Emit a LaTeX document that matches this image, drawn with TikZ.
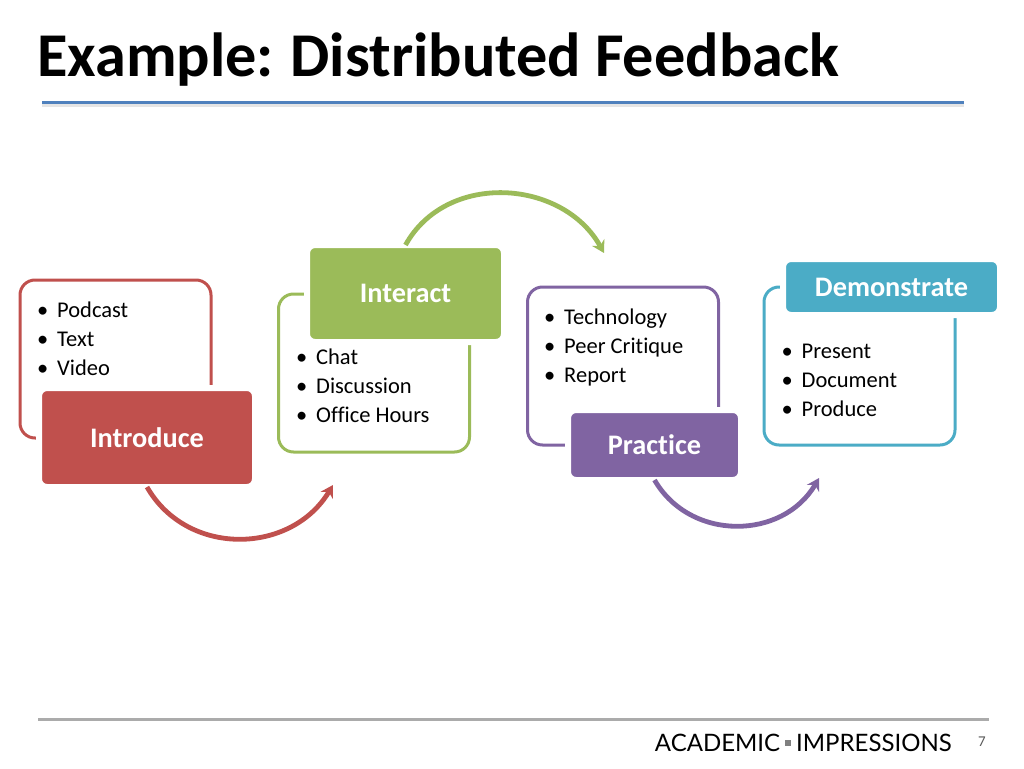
\documentclass[tikz,border=0pt]{standalone}
\usepackage{fontspec}
\setmainfont[Ligatures=NoCommon]{Carlito}
\newfontfamily\logofont{Lato}
\usetikzlibrary{arrows.meta}
\definecolor{introred}{HTML}{C0504D}
\definecolor{interactgreen}{HTML}{9BBB59}
\definecolor{practicepurple}{HTML}{8064A2}
\definecolor{demoteal}{HTML}{4BACC6}
\definecolor{rulegray}{HTML}{ABABAB}
\definecolor{titleblue}{HTML}{4F81BD}
\newcommand{\bulletitem}[1]{\makebox[20pt][l]{\textbullet}#1}
\tikzset{
    listbox/.style={draw=#1, line width=3pt, rounded corners=15pt, fill=white, minimum width=191pt, minimum height=158pt, inner sep=0pt, outer sep=0pt},
    headbox/.style={fill=#1, draw=white, line width=6pt, rounded corners=8pt, text=white, font=\fontsize{28.3}{32}\selectfont\bfseries, inner sep=0pt, outer sep=0pt},
    itemlist/.style={anchor=north west, align=left, inner sep=0pt, font=\fontsize{22.5}{29}\selectfont},
    flowarrow/.style={draw=#1, line width=4.8pt, -{Stealth[length=12pt,width=14pt]}}
}
\begin{document}
\begin{tikzpicture}[x=1pt,y=-1pt]
    \useasboundingbox (0,0) rectangle (1024,768);
    % title
    \node[anchor=base west, inner sep=0pt, font=\fontsize{62.3}{66}\selectfont\bfseries] (title) at (37,77) {Example:\hspace{-2pt} Distributed Feedback};
    \coordinate (titleleft) at (42,102);
    \coordinate (titleright) at (964,102);
    \draw[black!10, line width=4pt] ([yshift=-3pt]titleleft) -- ([yshift=-3pt]titleright);
    \draw[titleblue, line width=3pt] (titleleft) -- (titleright);
    % boxes behind
    \node[listbox=introred] (introbox) at (115.5,359) {};
    \node[listbox=interactgreen] (interactbox) at (374,373) {};
    \node[listbox=practicepurple] (practicebox) at (623,366) {};
    \node[listbox=demoteal] (demobox) at (859.5,366) {};
    % lists
    \node[itemlist] (introlist) at (37,302) {\bulletitem{Podcast}\\\bulletitem{Text}\\\bulletitem{Video}};
    \node[itemlist] (interactlist) at (296,349) {\bulletitem{Chat}\\\bulletitem{Discussion}\\\bulletitem{Office Hours}};
    \node[itemlist] (practicelist) at (544,309) {\bulletitem{Technology}\\\bulletitem{Peer Critique}\\\bulletitem{Report}};
    \node[itemlist] (demolist) at (781.5,343.5) {\bulletitem{Present}\\\bulletitem{Document}\\\bulletitem{Produce}};
    % heads
    \node[headbox=introred, minimum width=216pt, minimum height=99pt] (introduce) at (147,437.5) {Introduce};
    \node[headbox=interactgreen, minimum width=197pt, minimum height=97pt] (interact) at (405.5,293.5) {Interact};
    \node[headbox=practicepurple, minimum width=173pt, minimum height=70pt] (practice) at (654.5,445) {Practice};
    \node[headbox=demoteal, minimum width=217pt, minimum height=56pt] (demonstrate) at (891.5,287) {Demonstrate};
    % arcs
    \coordinate (introend) at (333,485);
    \coordinate (interactend) at (604,253);
    \coordinate (practiceend) at (819,478);
    \draw[flowarrow=introred] (introduce.south) .. controls +(40,70) and +(-42,70) .. (introend);
    \draw[flowarrow=interactgreen] (interact.north) .. controls +(41,-74) and +(-41,-74) .. (interactend);
    \draw[flowarrow=practicepurple] (practice.south) .. controls +(36,62) and +(-36,62) .. (practiceend);
    % footer
    \coordinate (footleft) at (38,719);
    \coordinate (footright) at (989,719);
    \draw[rulegray, line width=3pt] (footleft) -- (footright);
    \node[anchor=base east, inner sep=0pt, font=\logofont\fontsize{24}{28}\selectfont] (logo) at (952,751) {ACADEMIC\kern5pt{\color{gray}\rule[5pt]{6pt}{6pt}}\kern5pt IMPRESSIONS};
    \node[anchor=base, inner sep=0pt, text=black!65, font=\fontsize{15}{18}\selectfont] (pagenum) at (982,746) {7};
\end{tikzpicture}
\end{document}
